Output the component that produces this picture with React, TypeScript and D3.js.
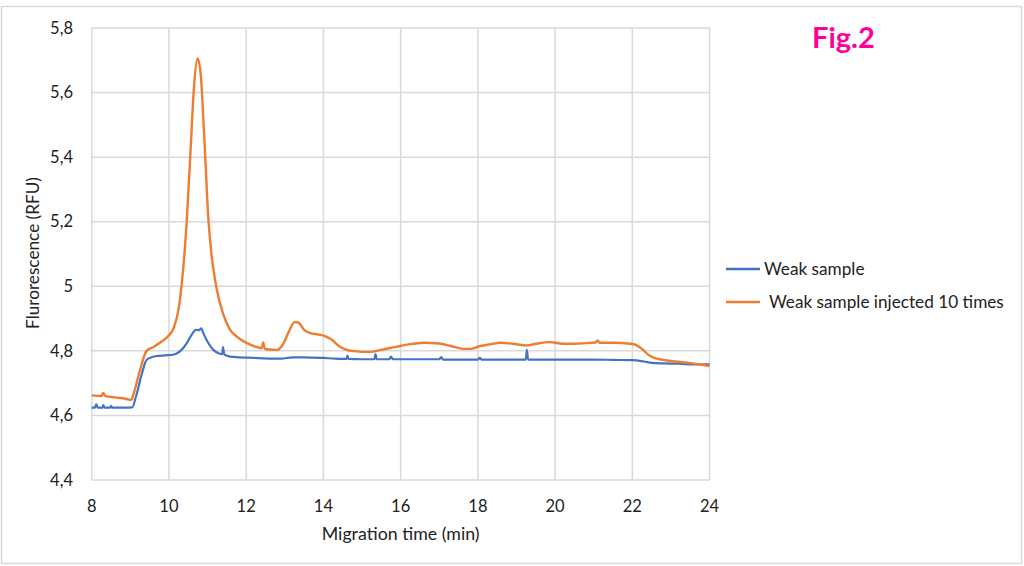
import * as d3 from "d3"

// Migration time (min) and fluorescence (RFU)
const weakTimes = [
  8.0, 8.08, 8.12, 8.16, 8.28, 8.3, 8.33, 8.48, 8.5, 8.53, 8.8, 9.05, 9.15, 9.3, 9.42, 9.55, 9.68, 9.9,
  10.1, 10.2, 10.3, 10.45, 10.6, 10.7, 10.78, 10.84, 10.88, 11.0, 11.15, 11.3, 11.38, 11.4, 11.43, 11.58,
  11.8, 12.0, 12.45, 12.9, 13.2, 13.5, 14.0, 14.3, 14.6, 14.62, 14.65, 15.0, 15.32, 15.35, 15.38, 15.7,
  15.75, 15.8, 16.5, 17.0, 17.05, 17.1, 18.0, 18.05, 18.1, 19.24, 19.27, 19.3, 20.0, 21.0, 21.5, 22.0,
  22.3, 22.5, 22.8, 23.2, 23.6, 24.0,
]
const weakValues = [
  4.624, 4.624, 4.634, 4.624, 4.624, 4.632, 4.624, 4.624, 4.63, 4.624, 4.624, 4.625, 4.66, 4.73, 4.772,
  4.78, 4.784, 4.786, 4.788, 4.792, 4.8, 4.822, 4.852, 4.865, 4.864, 4.87, 4.858, 4.828, 4.803, 4.792,
  4.79, 4.812, 4.789, 4.782, 4.78, 4.779, 4.777, 4.776, 4.78, 4.78, 4.778, 4.776, 4.775, 4.785, 4.775,
  4.774, 4.774, 4.79, 4.774, 4.774, 4.782, 4.774, 4.774, 4.774, 4.781, 4.773, 4.773, 4.778, 4.773, 4.773,
  4.803, 4.773, 4.773, 4.773, 4.772, 4.771, 4.767, 4.763, 4.761, 4.76, 4.758, 4.758,
]

const injectedTimes = [
  8.0, 8.25, 8.3, 8.35, 8.6, 8.9, 9.02, 9.08, 9.25, 9.42, 9.6, 9.8, 10.0, 10.12, 10.25, 10.35, 10.46,
  10.56, 10.65, 10.74, 10.82, 10.92, 11.02, 11.12, 11.24, 11.4, 11.58, 11.8, 12.02, 12.2, 12.4, 12.44,
  12.48, 12.6, 12.8, 12.96, 13.1, 13.25, 13.35, 13.5, 13.66, 13.85, 14.04, 14.2, 14.4, 14.6, 14.8, 15.0,
  15.2, 15.5, 15.9, 16.2, 16.6, 17.0, 17.3, 17.63, 17.8, 18.06, 18.3, 18.6, 18.9, 19.27, 19.5, 19.87,
  20.2, 20.5, 20.8, 21.05, 21.1, 21.15, 21.5, 21.95, 22.1, 22.25, 22.4, 22.55, 22.8, 23.1, 23.5, 23.8, 24.0,
]
const injectedValues = [
  4.662, 4.66, 4.67, 4.66, 4.656, 4.651, 4.648, 4.665, 4.74, 4.8, 4.812, 4.828, 4.848, 4.87, 4.93, 5.03,
  5.2, 5.42, 5.62, 5.706, 5.66, 5.45, 5.21, 5.08, 4.99, 4.915, 4.866, 4.84, 4.824, 4.815, 4.808, 4.826,
  4.807, 4.804, 4.803, 4.822, 4.858, 4.889, 4.888, 4.865, 4.855, 4.851, 4.846, 4.836, 4.815, 4.803, 4.799,
  4.797, 4.797, 4.803, 4.813, 4.82, 4.825, 4.823, 4.815, 4.806, 4.806, 4.815, 4.82, 4.825, 4.822, 4.817,
  4.822, 4.827, 4.822, 4.822, 4.824, 4.826, 4.832, 4.825, 4.825, 4.822, 4.818, 4.806, 4.789, 4.779,
  4.772, 4.767, 4.762, 4.757, 4.753,
]

const xTicks = [8, 10, 12, 14, 16, 18, 20, 22, 24]
const yTicks = [4.4, 4.6, 4.8, 5.0, 5.2, 5.4, 5.6, 5.8]

const seriesNames = ["Weak sample", "Weak sample injected 10 times"]
const colors = ["#4472c4", "#ed7d31"]

const width = 1024
const height = 566
const left = 91.7
const right = 709.6
const top = 28
const bottom = 480

const labelFont = "Lato, 'Open Sans', sans-serif"
const grid = "#d9d9d9"

export default function App() {
  const x = d3.scaleLinear().domain([8, 24]).range([left, right])
  const y = d3.scaleLinear().domain([4.4, 5.8]).range([bottom, top])

  const line = d3
    .line<[number, number]>()
    .x((d) => x(d[0]))
    .y((d) => y(d[1]))
    .curve(d3.curveMonotoneX)

  const weak = weakTimes.map((t, i) => [t, weakValues[i]] as [number, number])
  const injected = injectedTimes.map((t, i) => [t, injectedValues[i]] as [number, number])

  const fmt = (v: number) => String(+v.toFixed(1)).replace(".", ",")

  return (
    <div style={{ position: "fixed", left: 0, top: 0 }}>
      <svg width={width} height={height} style={{ display: "block", background: "#fff" }}>
        <rect x={1.5} y={6.5} width={1020} height={557} fill="#fff" stroke={grid} strokeWidth={1.5} />

        {xTicks.map((t) => (
          <line key={"gx" + t} x1={x(t)} x2={x(t)} y1={top} y2={bottom} stroke={grid} strokeWidth={1.5} />
        ))}
        {yTicks.map((v) => (
          <line key={"gy" + v} x1={left} x2={right} y1={y(v)} y2={y(v)} stroke={grid} strokeWidth={1.5} />
        ))}

        {yTicks.map((v) => (
          <text
            key={"ty" + v}
            x={73}
            y={y(v)}
            dy="0.35em"
            textAnchor="end"
            fontFamily={labelFont}
            fontSize={16.5}
            fill="#222"
          >
            {fmt(v)}
          </text>
        ))}
        {xTicks.map((t) => (
          <text
            key={"tx" + t}
            x={x(t)}
            y={512}
            textAnchor="middle"
            fontFamily={labelFont}
            fontSize={16.5}
            fill="#222"
          >
            {t}
          </text>
        ))}

        <text
          x={(left + right) / 2}
          y={540}
          textAnchor="middle"
          fontFamily={labelFont}
          fontSize={17.8}
          fill="#222"
        >
          Migration time (min)
        </text>
        <text
          transform={`translate(39,${(top + bottom) / 2 - 1}) rotate(-90)`}
          textAnchor="middle"
          fontFamily={labelFont}
          fontSize={17.2}
          fill="#222"
        >
          Flurorescence (RFU)
        </text>

        <path d={line(weak) ?? ""} fill="none" stroke={colors[0]} strokeWidth={2.2} strokeLinejoin="round" />
        <path d={line(injected) ?? ""} fill="none" stroke={colors[1]} strokeWidth={2.4} strokeLinejoin="round" />

        {seriesNames.map((name, i) => (
          <g key={name} transform={`translate(726,${269 + i * 33})`}>
            <line x1={0} x2={34} y1={0} y2={0} stroke={colors[i]} strokeWidth={2.4} />
            <text x={i === 0 ? 38 : 43} y={0} dy="0.35em" fontFamily={labelFont} fontSize={17.2} fill="#222">
              {name}
            </text>
          </g>
        ))}

        <text x={812} y={48} fontFamily={labelFont} fontWeight="bold" fontSize={29} fill="#ff0099">
          Fig.2
        </text>
      </svg>
    </div>
  )
}
